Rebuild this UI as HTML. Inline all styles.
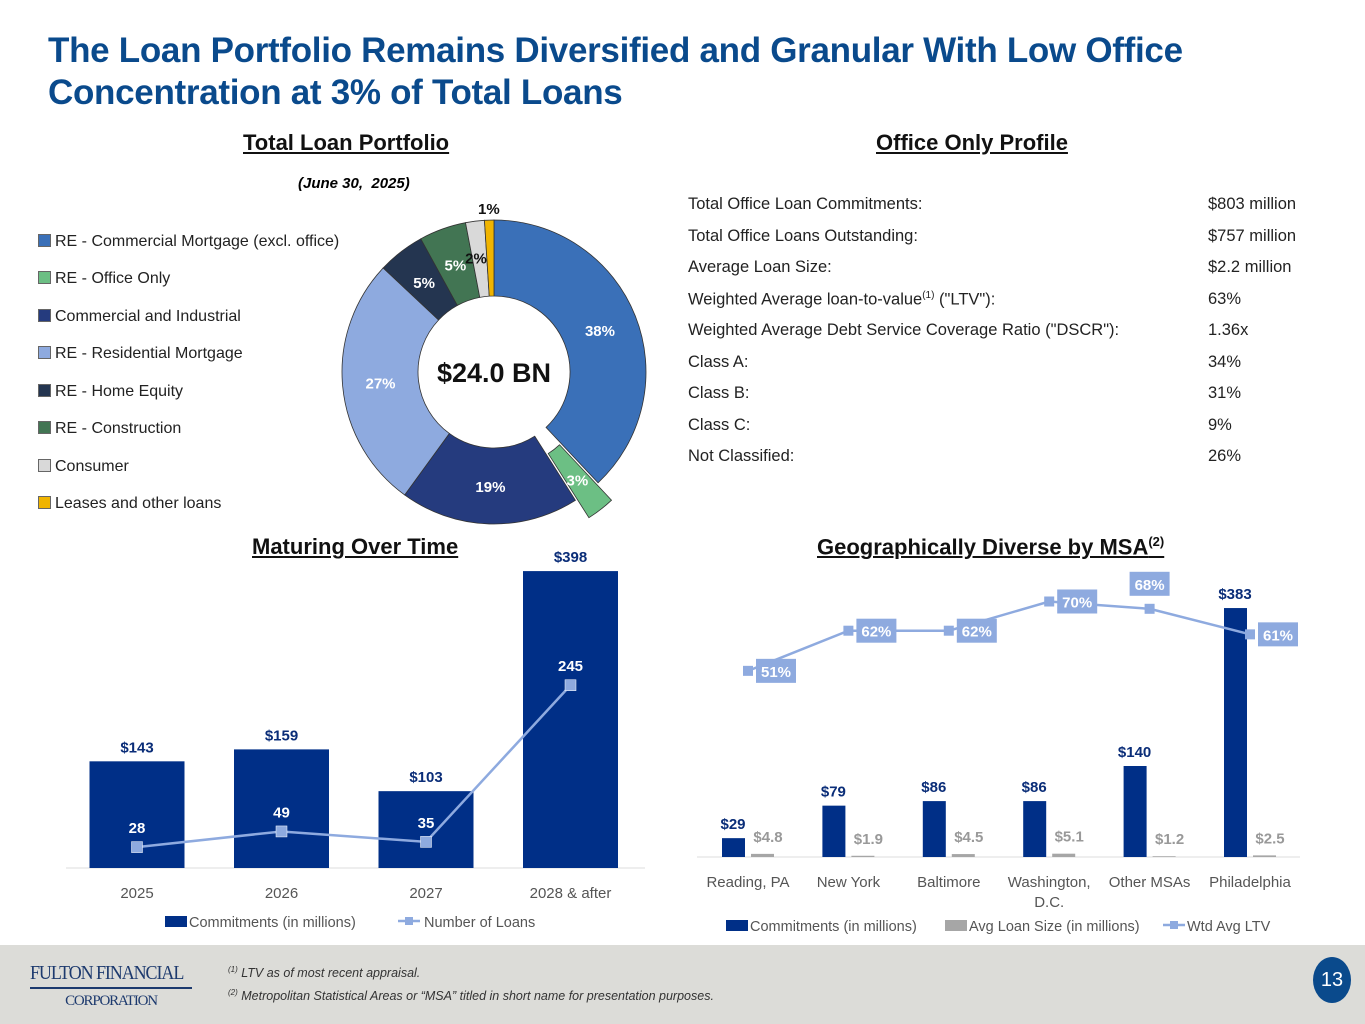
<!DOCTYPE html>
<html><head><meta charset="utf-8"><style>
body{margin:0;width:1365px;height:1024px;background:#fff;font-family:"Liberation Sans",sans-serif;position:relative;overflow:hidden}
.abs{position:absolute}
h1{position:absolute;left:48px;top:30px;margin:0;font-size:35px;line-height:42px;color:#0a4a8c;font-weight:bold;letter-spacing:-0.3px}
.sec{position:absolute;font-size:22px;font-weight:bold;text-decoration:underline;color:#111}
.leg{position:absolute;left:38px;font-size:16px;color:#222}
.leg i{display:inline-block;width:11px;height:11px;margin-right:4px;vertical-align:-1px;border:1px solid #666}
.row{position:absolute;left:688px;font-size:16.5px;color:#222}
.val{position:absolute;left:1208px;font-size:16.5px;color:#222}
</style></head><body>
<h1>The Loan Portfolio Remains Diversified and Granular With Low Office<br>Concentration at 3% of Total Loans</h1>
<div class="sec" style="left:243px;top:130px">Total Loan Portfolio</div>
<div class="abs" style="left:298px;top:175px;font-size:15px;font-weight:bold;font-style:italic">(June 30,&nbsp; 2025)</div>
<div class="sec" style="left:876px;top:130px">Office Only Profile</div>

<div>
<div class="leg" style="top:233px"><i style="background:#3a70b8"></i>RE - Commercial Mortgage (excl. office)</div>
<div class="leg" style="top:270px"><i style="background:#6cbf84"></i>RE - Office Only</div>
<div class="leg" style="top:308px"><i style="background:#253b7e"></i>Commercial and Industrial</div>
<div class="leg" style="top:345px"><i style="background:#8eaadf"></i>RE - Residential Mortgage</div>
<div class="leg" style="top:383px"><i style="background:#243550"></i>RE - Home Equity</div>
<div class="leg" style="top:420px"><i style="background:#427553"></i>RE - Construction</div>
<div class="leg" style="top:458px"><i style="background:#d9d9d9"></i>Consumer</div>
<div class="leg" style="top:495px"><i style="background:#f0b400"></i>Leases and other loans</div>
</div>

<svg class="abs" style="left:0;top:0" width="1365" height="1024" id="donut"></svg>

<div>
<div class="row" style="top:195px">Total Office Loan Commitments:</div><div class="val" style="top:195px">$803 million</div>
<div class="row" style="top:227px">Total Office Loans Outstanding:</div><div class="val" style="top:227px">$757 million</div>
<div class="row" style="top:258px">Average Loan Size:</div><div class="val" style="top:258px">$2.2 million</div>
<div class="row" style="top:290px">Weighted Average loan-to-value<sup style="font-size:10px">(1)</sup> ("LTV"):</div><div class="val" style="top:290px">63%</div>
<div class="row" style="top:321px">Weighted Average Debt Service Coverage Ratio ("DSCR"):</div><div class="val" style="top:321px">1.36x</div>
<div class="row" style="top:353px">Class A:</div><div class="val" style="top:353px">34%</div>
<div class="row" style="top:384px">Class B:</div><div class="val" style="top:384px">31%</div>
<div class="row" style="top:416px">Class C:</div><div class="val" style="top:416px">9%</div>
<div class="row" style="top:447px">Not Classified:</div><div class="val" style="top:447px">26%</div>
</div>

<div class="sec" style="left:252px;top:534px">Maturing Over Time</div>
<div class="sec" style="left:817px;top:534px">Geographically Diverse by MSA<sup style="font-size:13px">(2)</sup></div>

<svg class="abs" style="left:0;top:0" width="1365" height="1024" id="mat"></svg>
<svg class="abs" style="left:0;top:0" width="1365" height="1024" id="geo"></svg>

<div class="abs" style="left:0;top:945px;width:1365px;height:79px;background:#dcdcd8"></div>
<div class="abs" style="left:30px;top:962px;width:162px;font-family:'Liberation Serif',serif;color:#1d3a6e;font-size:20px;letter-spacing:-1.2px;white-space:nowrap"><div style="transform:scaleX(0.9);transform-origin:left">FULTON FINANCIAL</div>
<div style="border-top:2px solid #1d3a6e;margin-top:2px;width:162px"></div>
<div style="font-size:15px;text-align:center;width:162px;margin-top:4px">CORPORATION</div></div>
<div class="abs" style="left:228px;top:960px;font-size:12.5px;font-style:italic;color:#333;line-height:20px"><sup style="font-size:8px">(1)</sup> LTV as of most recent appraisal.<br><sup style="font-size:8px">(2)</sup> Metropolitan Statistical Areas or “MSA” titled in short name for presentation purposes.</div>
<div class="abs" style="left:1313px;top:957px;width:38px;height:46px;border-radius:19px/23px;background:#0a4a8c;color:#fff;font-size:20px;text-align:center;line-height:46px">13</div>

<script>
const NS='http://www.w3.org/2000/svg';
function mk(svg,tag,at,txt){const e=document.createElementNS(NS,tag);for(const k in at)e.setAttribute(k,at[k]);if(txt!==undefined)e.textContent=txt;svg.appendChild(e);return e;}

// Donut
const sliceNames=['RE - Commercial Mortgage','RE - Office Only','Commercial and Industrial','RE - Residential Mortgage','RE - Home Equity','RE - Construction','Consumer','Leases and other loans'];
const sliceValues=[38,3,19,27,5,5,2,1];
const sliceColors=['#3a70b8','#6cbf84','#253b7e','#8eaadf','#243550','#427553','#d9d9d9','#f0b400'];
(function(){
const svg=document.getElementById('donut');
const cx=494,cy=372,R=152,r=76;const tot=sliceValues.reduce((a,b)=>a+b,0);
let a0=0;
sliceValues.forEach((v,i)=>{
 const a1=a0+v/tot*2*Math.PI;const am=(a0+a1)/2;
 const off=i===1?22:0;const ox=Math.sin(am)*off,oy=-Math.cos(am)*off;
 const P=(rad,a)=>[cx+ox+rad*Math.sin(a),cy+oy-rad*Math.cos(a)];
 const large=(a1-a0)>Math.PI?1:0;
 const p1=P(R,a0),p2=P(R,a1),p3=P(r,a1),p4=P(r,a0);
 const p=mk(svg,'path',{d:`M${p1}A${R},${R} 0 ${large} 1 ${p2}L${p3}A${r},${r} 0 ${large} 0 ${p4}Z`,fill:sliceColors[i],stroke:'#333','stroke-width':0.8});
 
 
 let lr=(R+r)/2, lp=P(lr,am), fill=(i===6||i===7)?'#111':'#fff';
 if(i===7){lp=P(R+12,am);} if(i===6){lp=P(R-36,am-0.03);}
 const t=mk(svg,'text',{x:lp[0],y:lp[1]+6,'text-anchor':'middle','font-size':15,'font-weight':'bold',fill:fill},v+'%');
 
 
 a0=a1;
});
const c=mk(svg,'text',{x:cx,y:cy+10,'text-anchor':'middle','font-size':27,'font-weight':'bold',fill:'#111'},'$24.0 BN');


})();

// Maturing chart
const matCats=['2025','2026','2027','2028 & after'];
const matCommit=[143,159,103,398];
const matLoans=[28,49,35,245];
(function(){
const svg=document.getElementById('mat');
const base=868,k=0.746;const X=i=>137+i*144.5;const Y=v=>base-v*k;
mk(svg,'line',{x1:66,x2:645,y1:base,y2:base,stroke:'#ddd'});
matCommit.forEach((v,i)=>{
 const b=mk(svg,'rect',{x:X(i)-47.5,y:Y(v),width:95,height:base-Y(v),fill:'#002f87'});
 
 
 mk(svg,'text',{x:X(i),y:Y(v)-9,'text-anchor':'middle','font-size':15,'font-weight':'bold',fill:'#0a2d78'},'$'+v);
 mk(svg,'text',{x:X(i),y:base+30,'text-anchor':'middle','font-size':15,fill:'#555'},matCats[i]);
});
mk(svg,'polyline',{points:matLoans.map((v,i)=>X(i)+','+Y(v)).join(' '),fill:'none',stroke:'#8eaadf','stroke-width':2.5});
matLoans.forEach((v,i)=>{
 const p=mk(svg,'rect',{x:X(i)-5.5,y:Y(v)-5.5,width:11,height:11,fill:'#8eaadf',stroke:'#fff','stroke-width':0.5});
 
 
 mk(svg,'text',{x:X(i),y:Y(v)-14,'text-anchor':'middle','font-size':15,'font-weight':'bold',fill:'#fff'},v);
});
mk(svg,'rect',{x:165,y:916,width:22,height:11,fill:'#002f87'});
mk(svg,'text',{x:189,y:927,'font-size':14.5,fill:'#555'},'Commitments (in millions)');
mk(svg,'line',{x1:398,x2:420,y1:921,y2:921,stroke:'#8eaadf','stroke-width':2.5});
mk(svg,'rect',{x:405,y:917,width:8,height:8,fill:'#8eaadf'});
mk(svg,'text',{x:424,y:927,'font-size':14.5,fill:'#555'},'Number of Loans');
})();

// Geo chart
const geoCats=['Reading, PA','New York','Baltimore','Washington,|D.C.','Other MSAs','Philadelphia'];
const geoCommit=[29,79,86,86,140,383];
const geoAvg=[4.8,1.9,4.5,5.1,1.2,2.5];
const geoLtv=[51,62,62,70,68,61];
(function(){
const svg=document.getElementById('geo');
const base=857,k=0.65,kl=3.65;const X=i=>748+i*100.4;const Y=v=>base-v*k;const YL=v=>base-v*kl;
mk(svg,'line',{x1:697,x2:1300,y1:base,y2:base,stroke:'#ddd'});
geoCommit.forEach((v,i)=>{
 const b=mk(svg,'rect',{x:X(i)-26,y:Y(v),width:23,height:base-Y(v),fill:'#002f87'});
 
 
 mk(svg,'text',{x:X(i)-15,y:Y(v)-9,'text-anchor':'middle','font-size':15,'font-weight':'bold',fill:'#0a2d78'},'$'+v);
 const a=geoAvg[i];
 const g=mk(svg,'rect',{x:X(i)+3,y:Y(a),width:23,height:base-Y(a),fill:'#a6a6a6'});
 
 
 mk(svg,'text',{x:X(i)+20,y:Y(a)-12,'text-anchor':'middle','font-size':15,'font-weight':'bold',fill:'#999'},'$'+a.toFixed(1));
 geoCats[i].split('|').forEach((s,j)=>mk(svg,'text',{x:X(i),y:base+30+j*20,'text-anchor':'middle','font-size':15,fill:'#555'},s));
});
mk(svg,'polyline',{points:geoLtv.map((v,i)=>X(i)+','+YL(v)).join(' '),fill:'none',stroke:'#8eaadf','stroke-width':2.5});
geoLtv.forEach((v,i)=>{
 const p=mk(svg,'rect',{x:X(i)-5,y:YL(v)-5,width:10,height:10,fill:'#8eaadf'});
 
 
 let lx=X(i)+8,ly=YL(v)-12;
 if(i===4){lx=X(i)-20;ly=YL(v)-37;}
 mk(svg,'rect',{x:lx,y:ly,width:40,height:24,fill:'#8eaadf'});
 mk(svg,'text',{x:lx+20,y:ly+18,'text-anchor':'middle','font-size':15,'font-weight':'bold',fill:'#fff'},v+'%');
});
mk(svg,'rect',{x:726,y:920,width:22,height:11,fill:'#002f87'});
mk(svg,'text',{x:750,y:931,'font-size':14.5,fill:'#555'},'Commitments (in millions)');
mk(svg,'rect',{x:945,y:920,width:22,height:11,fill:'#a6a6a6'});
mk(svg,'text',{x:969,y:931,'font-size':14.5,fill:'#555'},'Avg Loan Size (in millions)');
mk(svg,'line',{x1:1163,x2:1185,y1:925,y2:925,stroke:'#8eaadf','stroke-width':2.5});
mk(svg,'rect',{x:1170,y:921,width:8,height:8,fill:'#8eaadf'});
mk(svg,'text',{x:1187,y:931,'font-size':14.5,fill:'#555'},'Wtd Avg LTV');
})();
</script>
</body></html>
